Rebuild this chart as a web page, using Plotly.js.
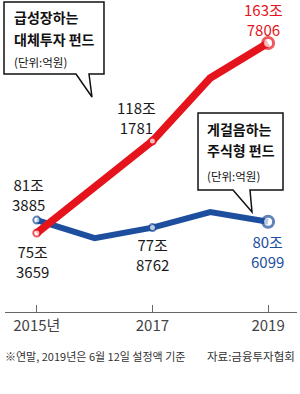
<!DOCTYPE html>
<html>
<head>
<meta charset="utf-8">
<script src="https://cdn.plot.ly/plotly-3.0.1.min.js"></script>
<style>
html,body{margin:0;padding:0;background:#fff;}
#chart{width:300px;height:394px;}
</style>
</head>
<body>
<div id="chart"></div>
<script>
// ---- data (values in 억원) ----
const years = [2015, 2016, 2017, 2018, 2019];
const altFund = [753659, 965000, 1181781, 1475000, 1637806];   // 대체투자 펀드
const stockFund = [813885, 730000, 778762, 851000, 806099];   // 주식형 펀드
const markedYears = [2015, 2017, 2019];
const tickVals = [2015, 2017, 2019];
const tickLabels = ['2015년', '2017', '2019'];
const box1Lines = ['급성장하는', '대체투자 펀드'];
const box2Lines = ['게걸음하는', '주식형 펀드'];
const unitLabel = '(단위:억원)';
const footnote = '※연말, 2019년은 6월 12일 설정액 기준';
const source = '자료:금융투자협회';

// ---- styles ----
const RED = '#e5141c';
const BLUE = '#1d4f9e';
const NUMFONT = '"Liberation Sans Narrow", "Noto Sans CJK KR", sans-serif';
const KFONT = '"Noto Sans CJK KR", sans-serif';

const W = 300, H = 394, ML = 5, MR = 3, MT = 0, MB = 82;
const PW = W - ML - MR, PH = H - MT - MB;
const px = x => (x - ML) / PW;
const py = y => (MT + PH - y) / PH;

const toJo = v => v / 10000;
const label = v => Math.floor(v / 10000) + '조<br>' + (v % 10000);

function markedY(series) {
  return markedYears.map(y => toJo(series[years.indexOf(y)]));
}
function markedV(series) {
  return markedYears.map(y => series[years.indexOf(y)]);
}

const traces = [
  {x: years, y: stockFund.map(toJo), mode: 'lines', line: {color: BLUE, width: 6}, hoverinfo: 'skip'},
  {x: years, y: altFund.map(toJo), mode: 'lines', line: {color: RED, width: 7.5}, hoverinfo: 'skip'},
  {x: markedYears, y: markedY(stockFund), mode: 'markers', hoverinfo: 'skip',
   marker: {size: [7, 7, 11], color: '#fff', line: {color: BLUE, width: [2, 2, 3]}}},
  {x: markedYears, y: markedY(altFund), mode: 'markers', hoverinfo: 'skip',
   marker: {size: [7, 7, 11], color: '#fff', line: {color: RED, width: [2, 2, 3]}}}
];

function pathFromPts(pts) {
  return 'M ' + pts.map(p => px(p[0]).toFixed(4) + ',' + py(p[1]).toFixed(4)).join(' L ') + ' Z';
}

const shapes = [
  {type: 'path', xref: 'paper', yref: 'paper', layer: 'above',
   path: pathFromPts([[4, 2], [104, 2], [104, 74], [89, 74], [92, 97], [76, 74], [4, 74]]),
   fillcolor: '#fff', line: {color: '#111', width: 1.5}},
  {type: 'path', xref: 'paper', yref: 'paper', layer: 'above',
   path: pathFromPts([[198, 113], [283, 113], [283, 190], [250, 190], [252, 212], [233, 190], [198, 190]]),
   fillcolor: '#fff', line: {color: '#111', width: 1.5}}
];

const alt = markedV(altFund), stk = markedV(stockFund);
const annotations = [];
// data labels
const redShifts = [[-4, -28], [-16, 24], [-5, 24]];
const blueShifts = [[-8, 26], [0, -27], [-1, -30]];
markedYears.forEach((yr, i) => {
  annotations.push({x: yr, y: toJo(alt[i]), xref: 'x', yref: 'y', text: label(alt[i]), showarrow: false,
    xshift: redShifts[i][0], yshift: redShifts[i][1], xanchor: 'center', yanchor: 'middle',
    font: {family: NUMFONT, size: 15, color: i === 2 ? RED : '#1a1a1a'}});
  annotations.push({x: yr, y: toJo(stk[i]), xref: 'x', yref: 'y', text: label(stk[i]), showarrow: false,
    xshift: blueShifts[i][0], yshift: blueShifts[i][1], xanchor: 'center', yanchor: 'middle',
    font: {family: NUMFONT, size: 15, color: i === 2 ? BLUE : '#1a1a1a'}});
});
// box texts
function boxText(lines, x, ys) {
  lines.forEach((t, i) => annotations.push({xref: 'paper', yref: 'paper', x: px(x), y: py(ys[i]),
    xanchor: 'left', yanchor: 'middle', showarrow: false, text: '<b>' + t + '</b>',
    font: {family: KFONT, size: 14, color: '#111'}}));
  annotations.push({xref: 'paper', yref: 'paper', x: px(x), y: py(ys[2]), xanchor: 'left', yanchor: 'middle',
    showarrow: false, text: unitLabel, font: {family: KFONT, size: 11.5, color: '#111'}});
}
boxText(box1Lines, 12, [16.5, 38.5, 62]);
boxText(box2Lines, 205, [128.5, 150.5, 176]);
// footer
annotations.push({xref: 'paper', yref: 'paper', x: px(3), y: py(356), xanchor: 'left', yanchor: 'middle',
  showarrow: false, text: footnote, font: {family: KFONT, size: 11, color: '#333'}});
annotations.push({xref: 'paper', yref: 'paper', x: px(297), y: py(356), xanchor: 'right', yanchor: 'middle',
  showarrow: false, text: source, font: {family: KFONT, size: 11.5, color: '#333'}});

const layout = {
  width: W, height: H,
  margin: {l: ML, r: MR, t: MT, b: MB, pad: 0},
  paper_bgcolor: '#fff', plot_bgcolor: '#fff',
  showlegend: false, hovermode: false,
  xaxis: {range: [2014.45, 2019.5], tickvals: tickVals, ticktext: tickLabels,
    showgrid: false, zeroline: false, showline: true, linecolor: '#666', linewidth: 1,
    ticks: 'inside', ticklen: 7, tickcolor: '#666', tickwidth: 1,
    tickfont: {family: NUMFONT, size: 15, color: '#444'}, fixedrange: true},
  yaxis: {range: [38.61, 183.79], visible: false, showgrid: false, zeroline: false, fixedrange: true},
  shapes: shapes,
  annotations: annotations
};

Plotly.newPlot('chart', traces, layout, {displayModeBar: false, staticPlot: true});
</script>
</body>
</html>
